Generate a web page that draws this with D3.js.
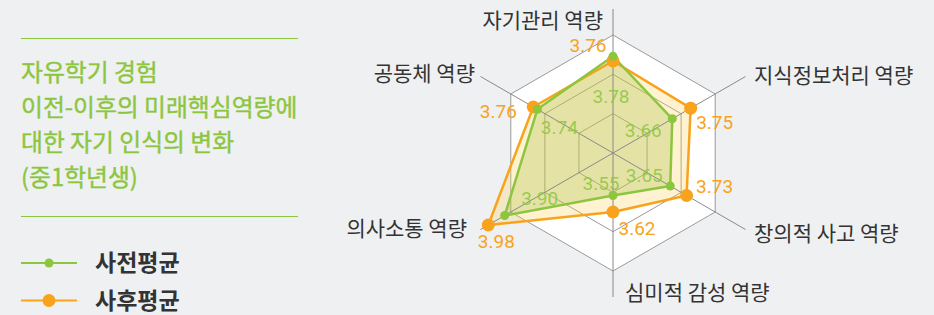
<!DOCTYPE html>
<html>
<head>
<meta charset="utf-8">
<script src="https://cdn.jsdelivr.net/npm/d3@7"></script>
<style>
  body { margin: 0; background: #eff0f2; }
  text { font-family: "Noto Sans CJK KR", "Noto Sans", sans-serif; }
  .num { font-family: Roboto, "Noto Sans", sans-serif; }
</style>
</head>
<body>
<div id="chart"></div>
<script>
// data
var axes = ["자기관리 역량", "지식정보처리 역량", "창의적 사고 역량", "심미적 감성 역량", "의사소통 역량", "공동체 역량"];
var preValues  = [3.78, 3.66, 3.65, 3.55, 3.90, 3.74];
var postValues = [3.76, 3.75, 3.73, 3.62, 3.98, 3.76];
var seriesNames = ["사전평균", "사후평균"];
var titleLines = ["자유학기 경험", "이전-이후의 미래핵심역량에", "대한 자기 인식의 변화", "(중1학년생)"];

var width = 934, height = 315;
var cx = 613, cy = 153, outerR = 118, rings = 3;
var green = "#8cc63e", orange = "#f8a31b";

var svg = d3.select("#chart").append("svg")
    .attr("width", width)
    .attr("height", height);

// left title block
svg.append("line").attr("x1", 21).attr("x2", 298).attr("y1", 38.5).attr("y2", 38.5)
    .attr("stroke", green).attr("stroke-width", 1.2);
svg.append("line").attr("x1", 21).attr("x2", 298).attr("y1", 216.5).attr("y2", 216.5)
    .attr("stroke", green).attr("stroke-width", 1.2);
svg.selectAll(".title").data(titleLines).enter().append("text")
    .attr("x", 21)
    .attr("y", function(d, i) { return 81 + i * 35; })
    .attr("fill", green)
    .attr("stroke", green).attr("stroke-width", 0.4)
    .style("font-size", "23.8px")
    .text(function(d) { return d; });

// legend
var legendColors = [green, orange], legendR = [4.5, 6.5];
var lg = svg.selectAll(".legend").data(seriesNames).enter().append("g")
    .attr("transform", function(d, i) { return "translate(21," + (263 + i * 37.5) + ")"; });
lg.append("line").attr("x1", 0).attr("x2", 56)
    .attr("stroke", function(d, i) { return legendColors[i]; }).attr("stroke-width", 2);
lg.append("circle").attr("cx", 28).attr("r", function(d, i) { return legendR[i]; })
    .attr("fill", function(d, i) { return legendColors[i]; });
lg.append("text").attr("x", 74).attr("dy", "0.36em")
    .attr("fill", "#333")
    .style("font-size", "23px").style("font-weight", 700)
    .text(function(d) { return d; });

// scales
var angle = d3.scaleBand().domain(axes).range([0, 2 * Math.PI]).align(0);
var r = d3.scaleLinear().domain([3.37, 3.87]).range([0, outerR]);
function pt(name, radius) {
  var a = angle(name) - Math.PI / 2;
  return [cx + radius * Math.cos(a), cy + radius * Math.sin(a)];
}

var g = svg.append("g");

// hexagon background and rings
var outer = axes.map(function(d) { return pt(d, outerR); });
g.append("polygon").attr("points", outer.join(" ")).attr("fill", "#fff");
d3.range(1, rings + 1).forEach(function(k) {
  var p = axes.map(function(d) { return pt(d, outerR * k / rings); });
  g.append("polygon").attr("points", p.join(" "))
    .attr("fill", "none").attr("stroke", "#9a9a9a").attr("stroke-width", 1);
});

// series areas
var line = d3.line().curve(d3.curveLinearClosed);
var postPts = postValues.map(function(v, i) { return pt(axes[i], r(v)); });
var prePts = preValues.map(function(v, i) { return pt(axes[i], r(v)); });
g.append("path").attr("d", line(postPts)).attr("fill", "rgba(250,208,90,0.28)");
g.append("path").attr("d", line(prePts)).attr("fill", "rgba(160,190,50,0.28)");

// axes
g.selectAll(".axis").data(axes).enter().append("line")
    .attr("x1", cx).attr("y1", cy)
    .attr("x2", function(d, i) { return pt(d, i % 3 === 0 ? 144 : 153)[0]; })
    .attr("y2", function(d, i) { return pt(d, i % 3 === 0 ? 144 : 153)[1]; })
    .attr("stroke", "#8a8a8a").attr("stroke-width", 1);

// lines and dots
g.append("path").attr("d", line(postPts)).attr("fill", "none")
    .attr("stroke", orange).attr("stroke-width", 2.5).attr("stroke-linejoin", "round");
g.append("path").attr("d", line(prePts)).attr("fill", "none")
    .attr("stroke", green).attr("stroke-width", 2.5).attr("stroke-linejoin", "round");
g.selectAll(".postDot").data(postPts).enter().append("circle")
    .attr("cx", function(d) { return d[0]; }).attr("cy", function(d) { return d[1]; })
    .attr("r", 6.5).attr("fill", orange);
g.selectAll(".preDot").data(prePts).enter().append("circle")
    .attr("cx", function(d) { return d[0]; }).attr("cy", function(d) { return d[1]; })
    .attr("r", 4.5).attr("fill", green);

// axis labels
var labelAnchor = ["end", "start", "start", "start", "end", "end"];
var labelPos = [[603, 20], [754, 75], [754, 233], [625, 292], [467, 228], [475, 73]];
g.selectAll(".axisLabel").data(axes).enter().append("text")
    .attr("x", function(d, i) { return labelPos[i][0]; })
    .attr("y", function(d, i) { return labelPos[i][1]; })
    .attr("dy", "0.36em")
    .attr("text-anchor", function(d, i) { return labelAnchor[i]; })
    .attr("fill", "#333")
    .style("font-size", "21px")
    .text(function(d) { return d; });

// value labels, offset from their points
var preOff = [[-2, 40], [-29, 11], [-26, -11], [-12, -12], [35, -17], [22, 18]];
var postOff = [[-25, -16], [24, 14], [28, -9], [24, 16], [8, 16], [-35, 4]];
g.selectAll(".preVal").data(preValues).enter().append("text")
    .attr("class", "num")
    .attr("x", function(d, i) { return prePts[i][0] + preOff[i][0]; })
    .attr("y", function(d, i) { return prePts[i][1] + preOff[i][1]; })
    .attr("dy", "0.36em").attr("text-anchor", "middle")
    .attr("fill", green).attr("fill-opacity", 0.85)
    .style("font-size", "19px")
    .text(function(d) { return d.toFixed(2); });
g.selectAll(".postVal").data(postValues).enter().append("text")
    .attr("class", "num")
    .attr("x", function(d, i) { return postPts[i][0] + postOff[i][0]; })
    .attr("y", function(d, i) { return postPts[i][1] + postOff[i][1]; })
    .attr("dy", "0.36em").attr("text-anchor", "middle")
    .attr("fill", orange)
    .style("font-size", "19px")
    .text(function(d) { return d.toFixed(2); });
</script>
</body>
</html>
